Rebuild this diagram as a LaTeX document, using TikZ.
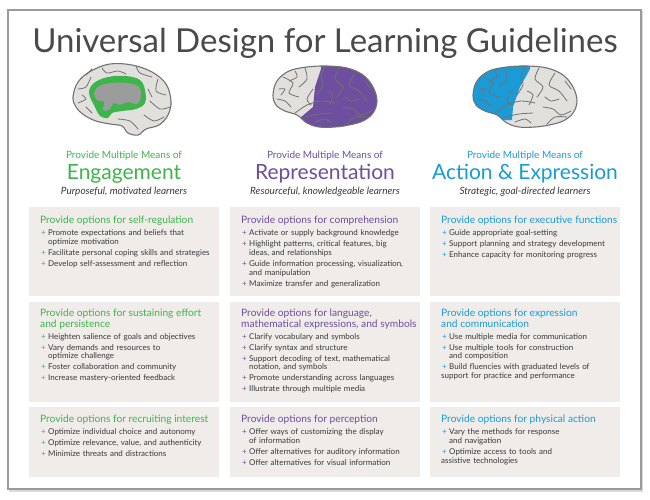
\documentclass[tikz,border=0pt]{standalone}
\usepackage{fontspec}
\setmainfont{Lato}
\usepackage{tikz}
\usetikzlibrary{positioning}

\definecolor{udlgreen}{HTML}{3CB54A}
\definecolor{udlpurple}{HTML}{6E4E9E}
\definecolor{udlblue}{HTML}{1A9BD7}
\definecolor{boxgray}{HTML}{EFECEA}
\definecolor{textgray}{HTML}{3A3A3A}
\definecolor{titlegray}{HTML}{4A4A4A}
\definecolor{framegray}{HTML}{9A9A9A}
\definecolor{brainfill}{HTML}{E2E0DD}
\definecolor{braingray}{HTML}{727272}
\definecolor{coregray}{HTML}{9C9C9C}

% heading and items of an options box
\newcommand{\opthead}[2]{{\color{#1}\fontsize{10.2}{10.4}\selectfont #2\par}\vspace{1pt}}
\newcommand{\optitem}[2]{\par\vspace{2.3pt}\hangindent=8pt\hangafter=1\noindent\makebox[8pt][l]{\hspace{0.8pt}\textcolor{#1}{+}}#2}

\begin{document}
\begin{tikzpicture}[x=1pt,y=-1pt,
    outerframe/.style={draw=framegray,line width=1.4pt,fill=white},
    frameshadow/.style={draw=black!15,line width=1.6pt},
    optbox/.style={fill=boxgray,anchor=north west,minimum width=190pt,inner sep=0pt},
    opttext/.style={anchor=north west,text width=184pt,align=left,inner sep=0pt,
      font=\fontsize{8}{8.7}\selectfont,text=textgray},
    maintitle/.style={font=\fontsize{33}{36}\selectfont,text=titlegray,anchor=base},
    means/.style={font=\fontsize{10}{11}\selectfont,anchor=base,inner sep=0pt},
    meanstitle/.style={font=\fontsize{21}{24}\selectfont,anchor=base,inner sep=0pt},
    learners/.style={font=\itshape\fontsize{10}{11}\selectfont,text=textgray,anchor=base,inner sep=0pt},
    brainedge/.style={draw=braingray,line width=1.1pt,line join=round},
    sulcus/.style={draw=braingray,line width=0.8pt,line cap=round,line join=round},
    pics/side brain/.style={code={
      \begin{scope}
        \clip plot[smooth cycle,tension=0.6] coordinates {(-52,-2) (-48,-16) (-36,-26) (-18,-30) (2,-31) (22,-29) (38,-22) (48,-10) (52,4) (48,16) (38,24) (24,28) (10,30) (-6,30) (-18,26) (-28,18) (-40,14) (-49,8)};
        \fill[brainfill] (-60,-40) rectangle (60,40);
        #1
      \end{scope}
      \draw[brainedge] plot[smooth cycle,tension=0.6] coordinates {(-52,-2) (-48,-16) (-36,-26) (-18,-30) (2,-31) (22,-29) (38,-22) (48,-10) (52,4) (48,16) (38,24) (24,28) (10,30) (-6,30) (-18,26) (-28,18) (-40,14) (-49,8)};
      % sulci
      \draw[sulcus] plot[smooth] coordinates {(0,-31) (-4,-20) (-2,-12) (-8,-2)};
      \draw[sulcus] plot[smooth] coordinates {(-30,16) (-18,8) (-4,4) (10,6)};
      \draw[sulcus] plot[smooth] coordinates {(-42,-20) (-32,-14) (-36,-4) (-26,0)};
      \draw[sulcus] plot[smooth] coordinates {(-20,-29) (-18,-18) (-26,-10)};
      \draw[sulcus] plot[smooth] coordinates {(-48,2) (-40,4) (-34,10)};
      \draw[sulcus] plot[smooth] coordinates {(-30,-26) (-28,-20) (-36,-16)};
      \draw[sulcus] plot[smooth] coordinates {(-46,-8) (-40,-8) (-44,-2)};
      \draw[sulcus] plot[smooth] coordinates {(14,-29) (10,-18) (18,-10) (12,0)};
      \draw[sulcus] plot[smooth] coordinates {(30,-24) (24,-12) (34,-6) (42,4)};
      \draw[sulcus] plot[smooth] coordinates {(40,-16) (46,-8)};
      \draw[sulcus] plot[smooth] coordinates {(18,10) (28,12) (36,18) (46,14)};
      \draw[sulcus] plot[smooth] coordinates {(-20,20) (-6,17) (8,16)};
      \draw[sulcus] plot[smooth] coordinates {(-10,25) (0,22) (6,26)};
      \draw[sulcus] plot[smooth] coordinates {(22,27) (30,20) (42,20)};
      \draw[sulcus] plot[smooth] coordinates {(-12,-8) (-18,2) (-14,8)};
      \draw[sulcus] plot[smooth] coordinates {(2,-6) (8,-2) (4,8)};
      \draw[sulcus] plot[smooth] coordinates {(20,0) (26,4) (34,2)};
    }}
  ]
  \useasboundingbox (0,0) rectangle (650,499);

  % frame
  \draw[frameshadow] (10,12) rectangle (642.5,491);
  \draw[outerframe] (8,10) rectangle (641,489);

  \node[maintitle] (title) at (325,52) {Universal Design for Learning Guidelines};

  % brains
  \begin{scope}[shift={(122,99)}]
    \fill[brainfill] plot[smooth cycle,tension=0.6] coordinates {(-49,-2) (-44,-17) (-31,-28) (-12,-35) (10,-34) (30,-27) (44,-15) (49,2) (46,16) (37,26) (24,30) (16,36) (6,34) (0,27) (-12,25) (-26,22) (-38,16) (-46,8)};
    \fill[udlgreen] plot[smooth cycle,tension=0.6] coordinates {(-33,-6) (-28,-16) (-14,-22) (4,-23) (18,-19) (23,-9) (23,4) (14,10) (0,12) (-10,14) (-14,19) (-22,17) (-27,8)};
    \fill[coregray] plot[smooth cycle,tension=0.6] coordinates {(-28,-6) (-23,-13) (-10,-16) (6,-16) (17,-12) (19,-2) (15,5) (6,3) (-2,6) (-8,4) (-13,11) (-19,11) (-18,3) (-25,1)};
    \draw[brainedge] plot[smooth cycle,tension=0.6] coordinates {(-49,-2) (-44,-17) (-31,-28) (-12,-35) (10,-34) (30,-27) (44,-15) (49,2) (46,16) (37,26) (24,30) (16,36) (6,34) (0,27) (-12,25) (-26,22) (-38,16) (-46,8)};
    \draw[sulcus] plot[smooth] coordinates {(-44,-10) (-36,-12) (-31,-22)};
    \draw[sulcus] plot[smooth] coordinates {(-20,-31) (-15,-26) (-4,-28) (4,-25)};
    \draw[sulcus] plot[smooth] coordinates {(14,-33) (18,-26) (30,-22)};
    \draw[sulcus] plot[smooth] coordinates {(36,-20) (34,-8) (44,-4)};
    \draw[sulcus] plot[smooth] coordinates {(28,2) (38,10) (48,8)};
    \draw[sulcus] plot[smooth] coordinates {(22,16) (32,22) (42,18)};
    \draw[sulcus] plot[smooth] coordinates {(-44,4) (-36,0) (-40,-4)};
    \draw[sulcus] plot[smooth] coordinates {(-30,14) (-36,8)};
    \draw[sulcus] plot[smooth] coordinates {(-4,20) (8,22) (16,30)};
    \draw[sulcus] plot[smooth] coordinates {(-36,-24) (-30,-30)};
    \draw[sulcus] plot[smooth] coordinates {(26,-10) (30,-2)};
  \end{scope}
  \pic at (325,97) {side brain={\fill[udlpurple] (-3,-40) -- (-4,-28) -- (-10,-10) -- (-12,10) -- (-25,21) -- (-30,40) -- (60,40) -- (60,-40) -- cycle;}};
  \pic at (525,97) {side brain={\fill[udlblue] (-60,-40) -- (6,-40) -- (5,-28) -- (-5,-10) -- (-12,10) -- (-13,23) -- (-35,23) -- (-50,14) -- (-60,14) -- cycle;}};

  % column heads
  \node[means,text=udlgreen] (engMeans) at (124,158) {Provide Multiple Means of};
  \node[meanstitle,text=udlgreen] (engTitle) at (124,179) {Engagement};
  \node[learners] (engLearners) at (124,194.5) {Purposeful, motivated learners};
  \node[means,text=udlpurple] (repMeans) at (325,158) {Provide Multiple Means of};
  \node[meanstitle,text=udlpurple] (repTitle) at (325,179) {Representation};
  \node[learners] (repLearners) at (325,194.5) {Resourceful, knowledgeable learners};
  \node[means,text=udlblue] (actMeans) at (525,158) {Provide Multiple Means of};
  \node[meanstitle,text=udlblue] (actTitle) at (525,179) {Action \& Expression};
  \node[learners] (actLearners) at (525,194.5) {Strategic, goal-directed learners};

  % boxes
  \node[optbox,minimum height=89pt] (engA) at (29,207) {};
  \node[optbox,minimum height=100pt] (engB) at (29,302) {};
  \node[optbox,minimum height=70pt] (engC) at (29,407) {};
  \node[optbox,minimum height=89pt] (repA) at (230,207) {};
  \node[optbox,minimum height=100pt] (repB) at (230,302) {};
  \node[optbox,minimum height=70pt] (repC) at (230,407) {};
  \node[optbox,minimum height=89pt] (actA) at (430,207) {};
  \node[optbox,minimum height=100pt] (actB) at (430,302) {};
  \node[optbox,minimum height=70pt] (actC) at (430,407) {};

  % texts
  \node[opttext] (engAtext) at ([xshift=11pt,yshift=-9pt]engA.north west) {%
    \opthead{udlgreen}{Provide options for self-regulation}%
    \optitem{udlgreen}{Promote expectations and beliefs that\newline optimize motivation}%
    \optitem{udlgreen}{Facilitate personal coping skills and strategies}%
    \optitem{udlgreen}{Develop self-assessment and reflection}};
  \node[opttext] (engBtext) at ([xshift=11pt,yshift=-7pt]engB.north west) {%
    \opthead{udlgreen}{Provide options for sustaining effort\newline and persistence}%
    \optitem{udlgreen}{Heighten salience of goals and objectives}%
    \optitem{udlgreen}{Vary demands and resources to\newline optimize challenge}%
    \optitem{udlgreen}{Foster collaboration and community}%
    \optitem{udlgreen}{Increase mastery-oriented feedback}};
  \node[opttext] (engCtext) at ([xshift=11pt,yshift=-8pt]engC.north west) {%
    \opthead{udlgreen}{Provide options for recruiting interest}%
    \optitem{udlgreen}{Optimize individual choice and autonomy}%
    \optitem{udlgreen}{Optimize relevance, value, and authenticity}%
    \optitem{udlgreen}{Minimize threats and distractions}};

  \node[opttext] (repAtext) at ([xshift=11pt,yshift=-9pt]repA.north west) {%
    \opthead{udlpurple}{Provide options for comprehension}%
    \optitem{udlpurple}{Activate or supply background knowledge}%
    \optitem{udlpurple}{Highlight patterns, critical features, big\newline ideas, and relationships}%
    \optitem{udlpurple}{Guide information processing, visualization,\newline and manipulation}%
    \optitem{udlpurple}{Maximize transfer and generalization}};
  \node[opttext] (repBtext) at ([xshift=11pt,yshift=-7pt]repB.north west) {%
    \opthead{udlpurple}{Provide options for language,\newline mathematical expressions, and symbols}%
    \optitem{udlpurple}{Clarify vocabulary and symbols}%
    \optitem{udlpurple}{Clarify syntax and structure}%
    \optitem{udlpurple}{Support decoding of text, mathematical\newline notation, and symbols}%
    \optitem{udlpurple}{Promote understanding across languages}%
    \optitem{udlpurple}{Illustrate through multiple media}};
  \node[opttext] (repCtext) at ([xshift=11pt,yshift=-8pt]repC.north west) {%
    \opthead{udlpurple}{Provide options for perception}%
    \optitem{udlpurple}{Offer ways of customizing the display\newline of information}%
    \optitem{udlpurple}{Offer alternatives for auditory information}%
    \optitem{udlpurple}{Offer alternatives for visual information}};

  \node[opttext] (actAtext) at ([xshift=11pt,yshift=-9pt]actA.north west) {%
    \opthead{udlblue}{Provide options for executive functions}%
    \optitem{udlblue}{Guide appropriate goal-setting}%
    \optitem{udlblue}{Support planning and strategy development}%
    \optitem{udlblue}{Enhance capacity for monitoring progress}};
  \node[opttext] (actBtext) at ([xshift=11pt,yshift=-7pt]actB.north west) {%
    \opthead{udlblue}{Provide options for expression\newline and communication}%
    \optitem{udlblue}{Use multiple media for communication}%
    \optitem{udlblue}{Use multiple tools for construction\newline and composition}%
    \optitem{udlblue}{Build fluencies with graduated levels of\newline support for practice and performance}};
  \node[opttext] (actCtext) at ([xshift=11pt,yshift=-8pt]actC.north west) {%
    \opthead{udlblue}{Provide options for physical action}%
    \optitem{udlblue}{Vary the methods for response\newline and navigation}%
    \optitem{udlblue}{Optimize access to tools and\newline assistive technologies}};
\end{tikzpicture}
\end{document}
